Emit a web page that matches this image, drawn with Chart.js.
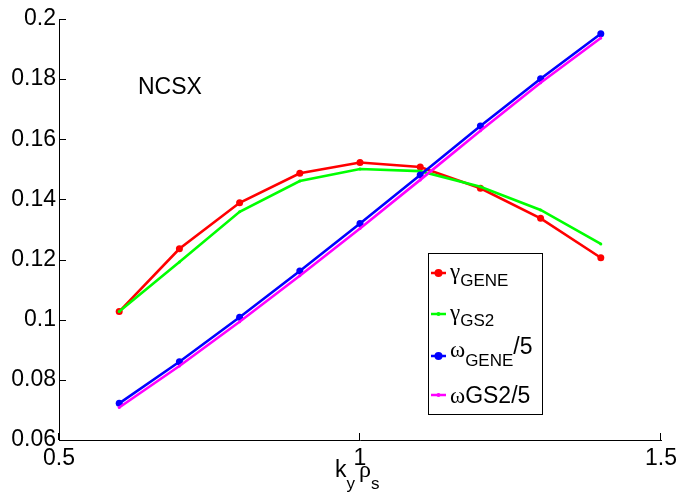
<!DOCTYPE html>
<html>
<head>
<meta charset="utf-8">
<script src="https://cdn.jsdelivr.net/npm/chart.js@4.4.1/dist/chart.umd.min.js"></script>
<style>
  html, body { margin: 0; padding: 0; background: #fff; }
  #wrap { width: 682px; height: 493px; position: relative; }
</style>
</head>
<body>
<div id="wrap"><canvas id="c" width="682" height="493"></canvas></div>
<script>
// ---- data ----
const kyRho = [0.6, 0.7, 0.8, 0.9, 1.0, 1.1, 1.2, 1.3, 1.4];
const gammaGENE = [0.1027, 0.1236, 0.1389, 0.1487, 0.1523, 0.1508, 0.1437, 0.1337, 0.1206];
const gammaGS2  = [0.1027, 0.1192, 0.1359, 0.1461, 0.1501, 0.1494, 0.1442, 0.1365, 0.1252];
const omegaGENE = [0.0722, 0.0860, 0.1008, 0.1162, 0.1320, 0.1481, 0.1644, 0.1801, 0.1951];
const omegaGS2  = [0.0708, 0.0846, 0.0993, 0.1146, 0.1303, 0.1465, 0.1628, 0.1788, 0.1937];
const seriesLabels = ['γGENE', 'γGS2', 'ωGENE/5', 'ωGS2/5'];
const xTicks = [0.5, 1, 1.5];
const yTicks = [0.06, 0.08, 0.1, 0.12, 0.14, 0.16, 0.18, 0.2];
const annotationText = 'NCSX';

const SANS = '"Liberation Sans", Arial, Helvetica, sans-serif';
const SERIF = '"Liberation Serif", "Times New Roman", serif';

function pts(arr) { return kyRho.map((x, i) => ({ x: x, y: arr[i] })); }

function drawRich(ctx, x, segs) {
  let cx = x;
  segs.forEach(s => {
    ctx.font = s.font;
    ctx.fillText(s.t, cx, s.y);
    cx += ctx.measureText(s.t).width + (s.gap || 0);
  });
}

const decor = {
  id: 'decor',
  afterDraw(chart) {
    const ctx = chart.ctx;
    const xs = chart.scales.x, ys = chart.scales.y;
    const ca = chart.chartArea;
    ctx.save();
    // inward tick marks
    ctx.strokeStyle = '#000';
    ctx.lineWidth = 1;
    ctx.beginPath();
    yTicks.forEach(v => {
      const py = Math.round(ys.getPixelForValue(v)) + 0.5;
      ctx.moveTo(ca.left, py); ctx.lineTo(ca.left + 7, py);
    });
    xTicks.forEach(v => {
      const px = Math.round(xs.getPixelForValue(v)) - 0.5;
      ctx.moveTo(px, ca.bottom); ctx.lineTo(px, ca.bottom - 7);
    });
    ctx.stroke();

    ctx.fillStyle = '#000';
    ctx.textBaseline = 'alphabetic';
    ctx.textAlign = 'left';
    // annotation
    ctx.font = '23px ' + SANS;
    ctx.fillText(annotationText, 138, 94);

    // x-axis title k_y rho_s
    drawRich(ctx, 335, [
      { t: 'k', font: '23px ' + SANS, y: 477 },
      { t: 'y', font: '17px ' + SANS, y: 489, gap: 4 },
      { t: 'ρ', font: '24px ' + SERIF, y: 477 },
      { t: 's', font: '17px ' + SANS, y: 489 }
    ]);

    // legend
    const bx = 428.5, by = 253.5, bw = 114, bh = 161;
    ctx.fillStyle = '#fff';
    ctx.fillRect(bx, by, bw, bh);
    ctx.strokeStyle = '#000';
    ctx.lineWidth = 1;
    ctx.strokeRect(bx, by, bw, bh);
    const rowsY = [273, 314, 356, 395];
    chart.data.datasets.forEach((ds, i) => {
      const ly = rowsY[i];
      ctx.strokeStyle = ds.borderColor;
      ctx.lineWidth = 2.5;
      ctx.beginPath();
      ctx.moveTo(431, ly); ctx.lineTo(446, ly);
      ctx.stroke();
      ctx.fillStyle = ds.borderColor;
      ctx.beginPath();
      ctx.arc(438.5, ly, ds.pointRadius + 0.5, 0, Math.PI * 2);
      ctx.fill();
    });
    ctx.fillStyle = '#000';
    const lbl = seriesLabels;
    drawRich(ctx, 450, [
      { t: lbl[0].slice(0, 1), font: '23px ' + SERIF, y: 279 },
      { t: lbl[0].slice(1), font: '17px ' + SANS, y: 286 }
    ]);
    drawRich(ctx, 450, [
      { t: lbl[1].slice(0, 1), font: '23px ' + SERIF, y: 320 },
      { t: lbl[1].slice(1), font: '17px ' + SANS, y: 326 }
    ]);
    drawRich(ctx, 450, [
      { t: lbl[2].slice(0, 1), font: '23px ' + SERIF, y: 357 },
      { t: lbl[2].slice(1, 5), font: '17px ' + SANS, y: 366 },
      { t: lbl[2].slice(5), font: '23px ' + SANS, y: 354 }
    ]);
    drawRich(ctx, 450, [
      { t: lbl[3].slice(0, 1), font: '23px ' + SERIF, y: 403 },
      { t: lbl[3].slice(1), font: '23px ' + SANS, y: 403 }
    ]);
    ctx.restore();
  }
};

const colors = ['#ff0000', '#00ff00', '#0000ff', '#ff00ff'];
const allData = [gammaGENE, gammaGS2, omegaGENE, omegaGS2];
const radii = [3.5, 1.5, 3.5, 1.5];
const orders = [4, 3, 2, 1];

new Chart(document.getElementById('c'), {
  type: 'line',
  data: {
    datasets: allData.map((arr, i) => ({
      label: seriesLabels[i],
      data: pts(arr),
      borderColor: colors[i],
      backgroundColor: colors[i],
      borderWidth: 2.6,
      pointRadius: radii[i],
      pointBorderWidth: 0,
      pointBackgroundColor: colors[i],
      tension: 0,
      fill: false,
      order: orders[i]
    }))
  },
  options: {
    responsive: false,
    animation: false,
    devicePixelRatio: 1,
    layout: { padding: { left: 0, top: 19, right: 19, bottom: 0 } },
    plugins: { legend: { display: false }, tooltip: { enabled: false }, title: { display: false } },
    scales: {
      x: {
        type: 'linear',
        min: 0.5, max: 1.5,
        afterBuildTicks: s => { s.ticks = xTicks.map(v => ({ value: v })); },
        afterFit: s => { s.height = 53; },
        grid: { display: false, drawTicks: false },
        border: { display: true, color: '#000', width: 1 },
        ticks: {
          color: '#000', padding: 5, maxRotation: 0, autoSkip: false,
          font: { family: SANS, size: 23 },
          callback: v => String(parseFloat(Number(v).toFixed(2)))
        }
      },
      y: {
        type: 'linear',
        min: 0.06, max: 0.2,
        afterBuildTicks: s => { s.ticks = yTicks.map(v => ({ value: v })); },
        afterFit: s => { s.width = 59; },
        grid: { display: false, drawTicks: false },
        border: { display: true, color: '#000', width: 1 },
        ticks: {
          color: '#000', padding: 3, autoSkip: false,
          font: { family: SANS, size: 23 },
          callback: v => String(parseFloat(Number(v).toFixed(2)))
        }
      }
    }
  },
  plugins: [decor]
});
</script>
</body>
</html>
